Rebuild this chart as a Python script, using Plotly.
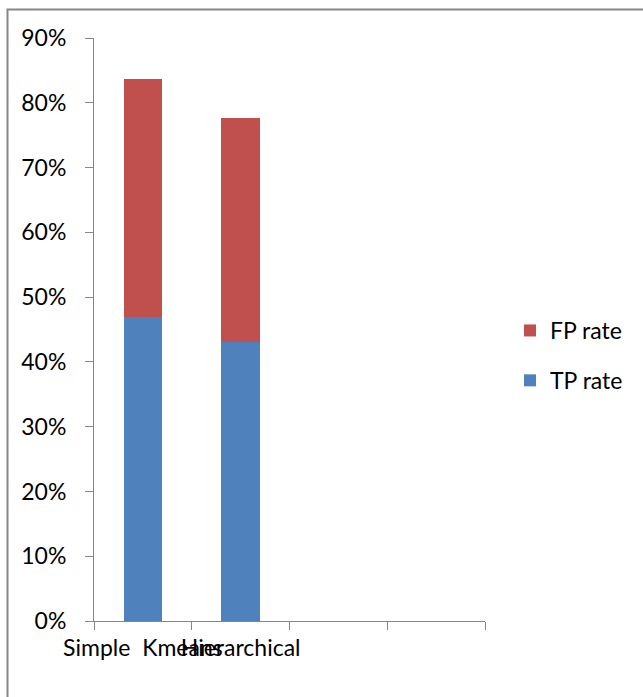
import plotly.graph_objects as go

# Clustering results: true-positive and false-positive rates per method
categories = ["Simple  Kmeans", "Hierarchical", " ", "  "]
tp_rate = [0.47, 0.43, None, None]
fp_rate = [0.366, 0.347, None, None]

BLUE = "#4F81BD"
RED = "#C0504D"
GRID = "#868686"
FONT = "Lato"
FS = 23

fig = go.Figure()
fig.add_trace(go.Bar(name="TP rate", x=categories, y=tp_rate,
                     marker=dict(color=BLUE, line=dict(width=0)),
                     legendgroup="tp", legendrank=2))
fig.add_trace(go.Bar(name="FP rate", x=categories, y=fp_rate,
                     marker=dict(color=RED, line=dict(width=0)),
                     legendgroup="fp", legendrank=1))

# plot area in pixels: x 94..485, y 38..621
L, R, T, B = 94, 158, 38, 76
W, H = 643, 697
pw, ph = W - L - R, H - T - B

def px(x):
    return (x - L) / pw

def py(y):
    return (H - B - y) / ph

fig.update_layout(
    width=W, height=H,
    margin=dict(l=L, r=R, t=T, b=B, autoexpand=False),
    barmode="stack",
    bargap=0.607,
    plot_bgcolor="white",
    paper_bgcolor="white",
    font=dict(family=FONT, size=FS, color="#000000"),
    showlegend=True,
    legend=dict(
        x=px(510), y=py(309), xanchor="left", yanchor="top",
        traceorder="grouped", tracegroupgap=17,
        font=dict(family=FONT, size=FS, color="#000000"),
        itemwidth=30, bgcolor="rgba(0,0,0,0)",
    ),
    xaxis=dict(
        type="category", range=[-0.5, 3.5],
        showline=True, linecolor=GRID, linewidth=1,
        ticks="outside", ticklen=8, tickcolor=GRID, tickwidth=1,
        tickson="boundaries", tickangle=0, ticklabelstandoff=6,
        showgrid=False, zeroline=False,
        tickfont=dict(family=FONT, size=FS, color="#000000"),
    ),
    yaxis=dict(
        range=[0, 0.9], dtick=0.1, tick0=0, tickformat=".0%",
        showline=True, linecolor=GRID, linewidth=1,
        ticks="outside", ticklen=8, tickcolor=GRID, tickwidth=1,
        ticklabelstandoff=14,
        showgrid=False, zeroline=False,
        tickfont=dict(family=FONT, size=FS, color="#000000"),
    ),
    shapes=[dict(
        type="rect", xref="paper", yref="paper",
        x0=px(7.5), x1=px(660), y0=py(715), y1=py(9.5),
        line=dict(color=GRID, width=2), fillcolor="rgba(0,0,0,0)",
        layer="below",
    )],
)

fig.write_html("out.html")
